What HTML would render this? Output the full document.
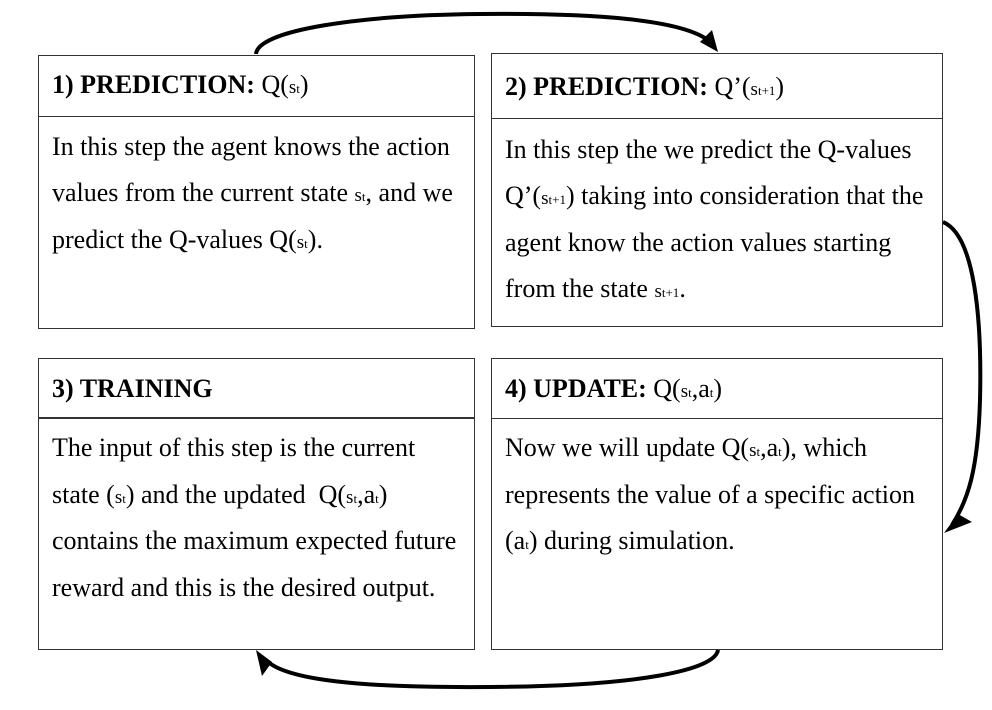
<!DOCTYPE html>
<html><head><style>
body{margin:0;width:992px;height:710px;background:#fff;position:relative;overflow:hidden;font-family:"Liberation Serif",serif;color:#000}
.b{position:absolute;border:1.5px solid #333;box-sizing:border-box}
.t{position:absolute;font-size:26px;white-space:nowrap;line-height:1}
.h{font-weight:bold}
.s{font-size:19px}.u{font-size:13px}
</style></head><body>
<div class="b" style="left:38px;top:55px;width:437px;height:62px"></div>
<div class="b" style="left:38px;top:116px;width:437px;height:213px"></div>
<div class="b" style="left:491px;top:53px;width:452px;height:66px"></div>
<div class="b" style="left:491px;top:118px;width:452px;height:209px"></div>
<div class="b" style="left:38px;top:358px;width:437px;height:60px"></div>
<div class="b" style="left:38px;top:418px;width:437px;height:232px"></div>
<div class="b" style="left:491px;top:358px;width:452px;height:61px"></div>
<div class="b" style="left:491px;top:418px;width:452px;height:232px"></div>

<div class="t" style="left:52px;top:72px"><span class="h">1) PREDICTION:</span> Q(<span class="s">s</span><span class="u">t</span>)</div>
<div class="t" style="left:52px;top:134px">In this step the agent knows the action</div>
<div class="t" style="left:52px;top:180px">values from the current state <span class="s">s</span><span class="u">t</span>, and we</div>
<div class="t" style="left:52px;top:227px">predict the Q-values Q(<span class="s">s</span><span class="u">t</span>).</div>

<div class="t" style="left:505px;top:74px"><span class="h">2) PREDICTION:</span> Q’(<span class="s">s</span><span class="u">t+1</span>)</div>
<div class="t" style="left:505px;top:137px">In this step the we predict the Q-values</div>
<div class="t" style="left:505px;top:183px">Q’(<span class="s">s</span><span class="u">t+1</span>) taking into consideration that the</div>
<div class="t" style="left:505px;top:230px">agent know the action values starting</div>
<div class="t" style="left:505px;top:276px">from the state <span class="s">s</span><span class="u">t+1</span>.</div>

<div class="t" style="left:52px;top:376px"><span class="h">3) TRAINING</span></div>
<div class="t" style="left:52px;top:435px">The input of this step is the current</div>
<div class="t" style="left:52px;top:482px">state (<span class="s">s</span><span class="u">t</span>) and the updated &nbsp;Q(<span class="s">s</span><span class="u">t</span>,a<span class="u">t</span>)</div>
<div class="t" style="left:52px;top:528px">contains the maximum expected future</div>
<div class="t" style="left:52px;top:575px">reward and this is the desired output.</div>

<div class="t" style="left:505px;top:376px"><span class="h">4) UPDATE:</span> Q(<span class="s">s</span><span class="u">t</span>,a<span class="u">t</span>)</div>
<div class="t" style="left:505px;top:435px">Now we will update Q(<span class="s">s</span><span class="u">t</span>,a<span class="u">t</span>), which</div>
<div class="t" style="left:505px;top:482px">represents the value of a specific action</div>
<div class="t" style="left:505px;top:528px">(a<span class="u">t</span>) during simulation.</div>

<svg width="992" height="710" style="position:absolute;left:0;top:0" fill="none" stroke="#000" stroke-width="4">
<path d="M256 54 C258 30 360 15 480 14 C600 13 680 20 708 40"/>
<path d="M718 52 L700 42 L712 30 Z" fill="#000" stroke="none"/>
<path d="M943 222 C975 235 982 320 980 400 C978 470 968 500 952 525"/>
<path d="M944 533 L958 514 L972 522 Z" fill="#000" stroke="none"/>
<path d="M718 650 C715 670 640 686 490 687 C360 688 285 680 266 660"/>
<path d="M256 650 L272 662 L262 676 Z" fill="#000" stroke="none"/>
</svg>
</body></html>
